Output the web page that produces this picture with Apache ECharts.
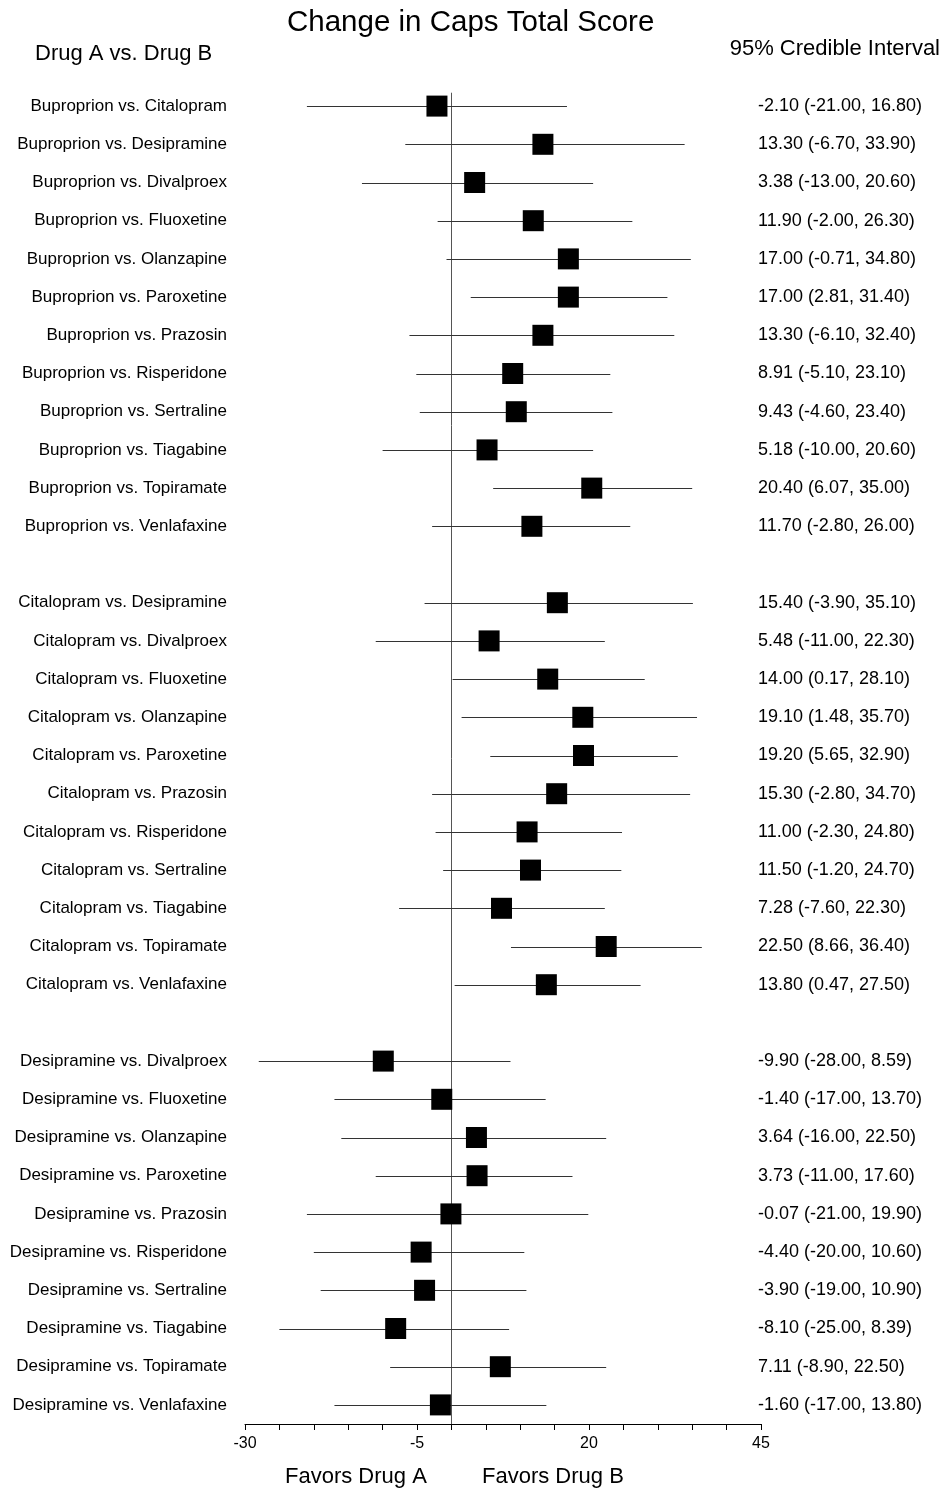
<!DOCTYPE html>
<html>
<head>
<meta charset="utf-8">
<script src="https://cdn.jsdelivr.net/npm/echarts@6/dist/echarts.min.js"></script>
<style>
html,body{margin:0;padding:0;background:#fff;}
#chart{width:942px;height:1490px;}
</style>
</head>
<body>
<div id="chart"></div>
<script>
// Row labels ('' = blank spacer row between groups)
const comparisons = [
  'Buproprion vs. Citalopram','Buproprion vs. Desipramine','Buproprion vs. Divalproex',
  'Buproprion vs. Fluoxetine','Buproprion vs. Olanzapine','Buproprion vs. Paroxetine',
  'Buproprion vs. Prazosin','Buproprion vs. Risperidone','Buproprion vs. Sertraline',
  'Buproprion vs. Tiagabine','Buproprion vs. Topiramate','Buproprion vs. Venlafaxine',
  '',
  'Citalopram vs. Desipramine','Citalopram vs. Divalproex','Citalopram vs. Fluoxetine',
  'Citalopram vs. Olanzapine','Citalopram vs. Paroxetine','Citalopram vs. Prazosin',
  'Citalopram vs. Risperidone','Citalopram vs. Sertraline','Citalopram vs. Tiagabine',
  'Citalopram vs. Topiramate','Citalopram vs. Venlafaxine',
  '',
  'Desipramine vs. Divalproex','Desipramine vs. Fluoxetine','Desipramine vs. Olanzapine',
  'Desipramine vs. Paroxetine','Desipramine vs. Prazosin','Desipramine vs. Risperidone',
  'Desipramine vs. Sertraline','Desipramine vs. Tiagabine','Desipramine vs. Topiramate',
  'Desipramine vs. Venlafaxine'
];
const estimate = [
  -2.10, 13.30, 3.38, 11.90, 17.00, 17.00, 13.30, 8.91, 9.43, 5.18, 20.40, 11.70,
  null,
  15.40, 5.48, 14.00, 19.10, 19.20, 15.30, 11.00, 11.50, 7.28, 22.50, 13.80,
  null,
  -9.90, -1.40, 3.64, 3.73, -0.07, -4.40, -3.90, -8.10, 7.11, -1.60
];
const lower = [
  -21.00, -6.70, -13.00, -2.00, -0.71, 2.81, -6.10, -5.10, -4.60, -10.00, 6.07, -2.80,
  null,
  -3.90, -11.00, 0.17, 1.48, 5.65, -2.80, -2.30, -1.20, -7.60, 8.66, 0.47,
  null,
  -28.00, -17.00, -16.00, -11.00, -21.00, -20.00, -19.00, -25.00, -8.90, -17.00
];
const upper = [
  16.80, 33.90, 20.60, 26.30, 34.80, 31.40, 32.40, 23.10, 23.40, 20.60, 35.00, 26.00,
  null,
  35.10, 22.30, 28.10, 35.70, 32.90, 34.70, 24.80, 24.70, 22.30, 36.40, 27.50,
  null,
  8.59, 13.70, 22.50, 17.60, 19.90, 10.60, 10.90, 8.39, 22.50, 13.80
];
const xTickLabels = [-30, -5, 20, 45];

const FONT = 'Liberation Sans, Arial, Helvetica, sans-serif';
const fmt = v => v.toFixed(2);
const ciLabels = estimate.map((e, i) =>
  e === null ? '' : fmt(e) + ' (' + fmt(lower[i]) + ', ' + fmt(upper[i]) + ')');

const rows = comparisons.map((_, i) => i);
const whiskerData = [];
const pointData = [];
rows.forEach(i => {
  if (estimate[i] !== null) {
    whiskerData.push([lower[i], upper[i], i]);
    pointData.push([estimate[i], i]);
  }
});

const chart = echarts.init(document.getElementById('chart'), null, {renderer: 'canvas'});
chart.setOption({
  animation: false,
  backgroundColor: '#fff',
  title: {
    text: 'Change in Caps Total Score',
    left: 282,
    top: 3,
    textStyle: {fontFamily: FONT, fontSize: 29.5, fontWeight: 'normal', color: '#000'}
  },
  graphic: [
    {type: 'text', left: 35, top: 43, style: {text: 'Drug A vs. Drug B', font: '22px ' + FONT, fill: '#000'}},
    {type: 'text', right: 2, top: 38, style: {text: '95% Credible Interval', font: '22px ' + FONT, fill: '#000'}},
    {type: 'text', left: 285, top: 1466, style: {text: 'Favors Drug A', font: '22px ' + FONT, fill: '#000'}},
    {type: 'text', left: 482, top: 1466, style: {text: 'Favors Drug B', font: '22px ' + FONT, fill: '#000'}}
  ],
  grid: {left: 245, right: 181, top: 87, height: 1337, containLabel: false},
  xAxis: {
    type: 'value', min: -30, max: 45, interval: 5,
    axisLine: {show: true, onZero: false, lineStyle: {color: '#000', width: 1}},
    axisTick: {show: true, length: 6, lineStyle: {color: '#000'}},
    splitLine: {show: false},
    axisLabel: {
      margin: 12, color: '#000', fontFamily: FONT, fontSize: 16,
      formatter: v => xTickLabels.indexOf(v) >= 0 ? String(v) : ''
    }
  },
  yAxis: [
    {
      type: 'category', data: comparisons, inverse: true,
      axisLine: {show: false}, axisTick: {show: false}, splitLine: {show: false},
      axisLabel: {interval: 0, margin: 18, color: '#000', fontFamily: FONT, fontSize: 17}
    },
    {
      type: 'category', data: ciLabels, inverse: true, position: 'right',
      axisLine: {show: false}, axisTick: {show: false}, splitLine: {show: false},
      axisLabel: {interval: 0, margin: -3, align: 'left', color: '#000', fontFamily: FONT, fontSize: 18}
    }
  ],
  series: [
    {
      // reference line at zero
      type: 'custom',
      data: [[0]],
      silent: true,
      z: 1,
      renderItem: function (params, api) {
        const band = api.size([0, 1])[1];
        const top = api.coord([0, 0])[1] - 0.35 * band;
        const bottom = params.coordSys.y + params.coordSys.height;
        const x = Math.round(api.coord([api.value(0), 0])[0]) + 0.5;
        return {type: 'line', shape: {x1: x, y1: top, x2: x, y2: bottom},
          style: {stroke: '#555', lineWidth: 1}};
      }
    },
    {
      type: 'custom',
      data: whiskerData,
      silent: true,
      z: 2,
      renderItem: function (params, api) {
        const a = api.coord([api.value(0), api.value(2)]);
        const b = api.coord([api.value(1), api.value(2)]);
        const y = Math.round(a[1]) + 0.5;
        return {type: 'line', shape: {x1: a[0], y1: y, x2: b[0], y2: y},
          style: {stroke: '#333', lineWidth: 1}};
      }
    },
    {
      type: 'scatter',
      data: pointData,
      symbol: 'rect',
      symbolSize: 21,
      z: 3,
      itemStyle: {color: '#000', opacity: 1},
      silent: true
    }
  ]
});
</script>
</body>
</html>
